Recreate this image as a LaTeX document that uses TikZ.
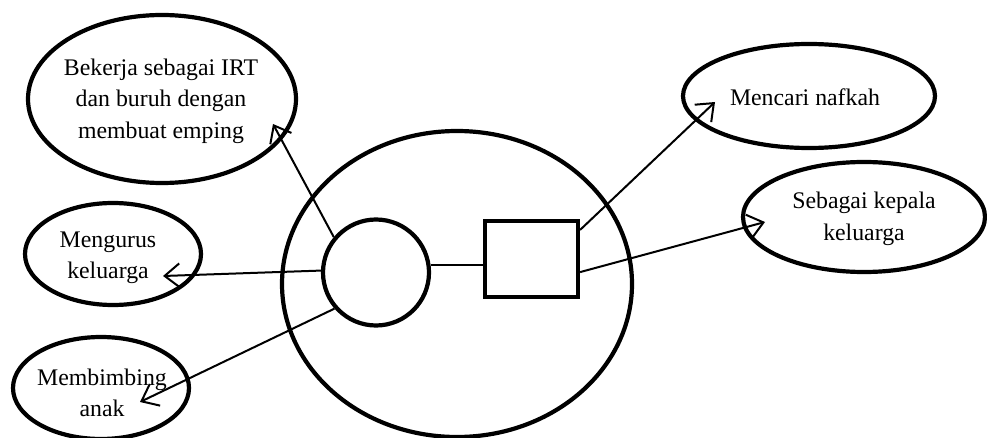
\documentclass[tikz,border=0pt]{standalone}
\usepackage{fontspec}
\setmainfont{Liberation Serif}
\usetikzlibrary{shapes.geometric,arrows.meta}
\begin{document}
\begin{tikzpicture}[x=1pt,y=-1pt,
  oval/.style={draw,ellipse,line width=4.2pt,inner sep=0pt},
  lbl/.style={align=center,font=\fontsize{23.8}{31.5}\selectfont,inner sep=0pt},
  conn/.style={line width=2pt},
  arr/.style={conn,-{Straight Barb[length=15pt,width=24pt,line width=2pt]}}]
\useasboundingbox (0,0) rectangle (987,438);
% outer circle, inner circle, box
\node[oval,minimum width=350pt,minimum height=306pt] (big) at (457,284) {};
\node[draw,circle,line width=4.2pt,minimum size=106pt,inner sep=0pt] (sc) at (376,272.5) {};
\node[draw,rectangle,line width=4.2pt,minimum width=93pt,minimum height=76pt,inner sep=0pt] (r) at (531.5,259) {};
% outer ovals
\node[oval,minimum width=268pt,minimum height=168pt] (e1) at (162,99) {};
\node[oval,minimum width=176pt,minimum height=102pt] (e2) at (113,254) {};
\node[oval,minimum width=176pt,minimum height=102pt] (e3) at (101,388) {};
\node[oval,minimum width=252pt,minimum height=104pt] (e4) at (809,96) {};
\node[oval,minimum width=242pt,minimum height=110pt] (e5) at (864,217) {};
% texts
\node[lbl] (t1) at (161,101) {Bekerja sebagai IRT\\dan buruh dengan\\membuat emping};
\node[lbl] (t2) at (108,258) {Mengurus\\keluarga};
\node[lbl] (t3) at (102,393) {Membimbing\\anak};
\node[lbl] (t4) at (805,97) {Mencari nafkah};
\node[lbl] (t5) at (864,219) {Sebagai kepala\\keluarga};
% arrow tips
\coordinate (p1) at (273,124);
\coordinate (p2) at (163,276);
\coordinate (p3) at (140,402);
\coordinate (p4) at (715,102);
\coordinate (p5) at (765,222);
% connectors
\draw[conn] (sc.8) -- (sc.8 -| r.west);
\draw[arr] (sc.140) -- (p1);
\draw[arr] (sc.178) -- (p2);
\draw[arr] (sc.221) -- (p3);
\draw[arr] ([yshift=-11pt]r.north east) -- (p4);
\draw[arr] ([yshift=27pt]r.south east) -- (p5);
\end{tikzpicture}
\end{document}
